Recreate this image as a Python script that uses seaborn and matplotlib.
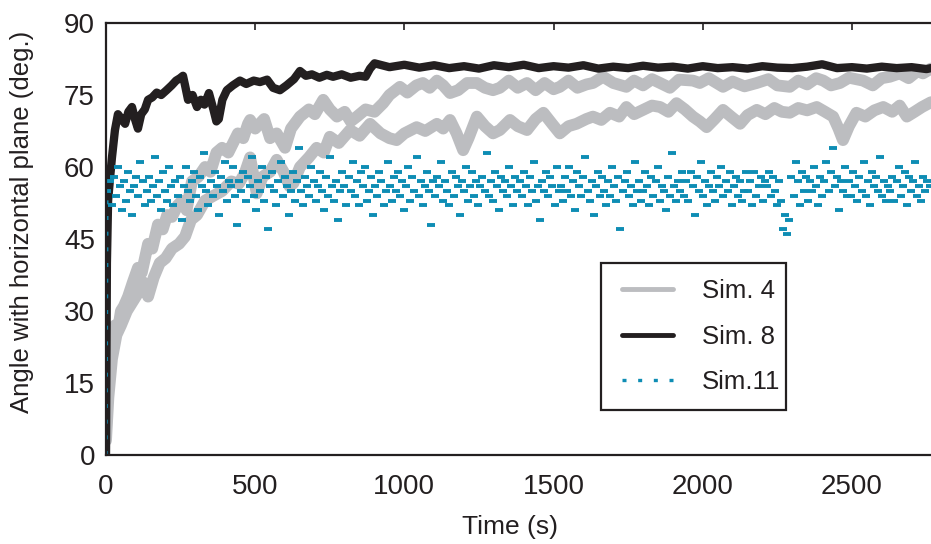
import numpy as np
import pandas as pd
import matplotlib
matplotlib.use("Agg")
import matplotlib.pyplot as plt
from matplotlib.lines import Line2D
from matplotlib.patches import Rectangle
import seaborn as sns

sns.set_theme(style="white")
plt.rcParams['font.family'] = ['Liberation Sans', 'DejaVu Sans']

# ---------------- data ----------------
series_labels = ["Sim. 4", "Sim. 8", "Sim.11"]
x_ticks = [0, 500, 1000, 1500, 2000, 2500]
y_ticks = [0, 15, 30, 45, 60, 75, 90]

sim8_t = [0, 3, 7, 14, 20, 30, 40, 52, 64, 75, 87, 97, 107, 118, 130, 141, 155, 170, 185, 203,
          220, 235, 248, 258, 265, 275, 290, 305, 318, 330, 345, 360, 370, 378, 390, 405, 425, 449, 470, 495,
          516, 540, 560, 583, 605, 630, 650, 670, 690, 715, 740, 761, 790, 820, 850, 870, 885, 900,
          950, 1000, 1050, 1100, 1150, 1200, 1250, 1300, 1350, 1400, 1450, 1500, 1550, 1600, 1650, 1700,
          1750, 1800, 1850, 1900, 1950, 2000, 2050, 2100, 2150, 2200, 2250, 2300, 2350, 2400, 2450, 2500,
          2550, 2600, 2650, 2700, 2750, 2765]
sim8_v = [0, 40, 53, 58, 62, 67.7, 71, 70, 69, 71.5, 72.5, 70, 68, 71, 72, 74, 74.5, 75.5, 75, 76,
          77, 78, 78.5, 79, 77, 74, 75, 72.5, 74, 73, 75.4, 72, 69.5, 70, 74, 76, 77, 78, 77.3, 78,
          77.7, 78.2, 76.5, 76, 77, 78.3, 80, 79, 79.3, 78.6, 79.2, 78.8, 79.3, 78.6, 79, 78.8, 80.5, 81.6,
          80.8, 81.3, 80.7, 81.2, 80.6, 81.0, 80.5, 81.2, 80.8, 81.3, 80.6, 81.0, 80.7, 81.2, 80.5, 80.9,
          80.6, 81.1, 80.7, 80.9, 80.5, 81.0, 80.6, 80.8, 80.5, 81.0, 80.7, 80.6, 80.9, 81.4, 80.6, 80.8,
          80.5, 80.9, 80.6, 80.8, 80.4, 80.6]

sim4_upper_t = [0, 5, 10, 20, 30, 40, 50, 60, 74, 90, 107, 120, 141, 155, 174, 190, 205, 221, 240, 255,
                270, 288, 310, 332, 350, 370, 389, 410, 442, 460, 476, 483, 500, 530, 550, 572, 600, 620, 650, 680,
                700, 728, 750, 774, 800, 820, 841, 870, 900, 929, 950, 985, 1010, 1040, 1062, 1085, 1109, 1130, 1153, 1180,
                1210, 1243, 1270, 1297, 1320, 1350, 1380, 1411, 1440, 1470, 1500, 1521, 1550, 1580, 1610, 1632, 1666, 1700, 1744, 1770,
                1800, 1830, 1857, 1890, 1920, 1967, 1990, 2020, 2068, 2100, 2140, 2181, 2220, 2250, 2292, 2320, 2350, 2380, 2404, 2430,
                2460, 2490, 2537, 2570, 2600, 2627, 2660, 2690, 2720, 2738, 2765]
sim4_upper_v = [5, 14, 19, 24, 27, 26, 30, 31, 33, 36, 39, 38, 44, 43, 48, 47, 50, 49.6, 52, 53,
                51, 57, 58, 60, 59, 63, 64, 63, 67, 66, 69, 69.8, 68, 70, 66, 67, 64, 68, 70.5, 72,
                71, 74, 72, 70.5, 71.5, 69.5, 70.5, 72, 71.5, 73.3, 75, 76.7, 75.5, 77, 77.5, 76.5, 78, 77, 75.4, 76,
                77.5, 77.5, 76.5, 76, 76.5, 78, 76.5, 77.5, 76, 77.5, 76.2, 76.7, 78, 76.5, 77.2, 77.5, 78.8, 77.5, 76.7, 78,
                77, 78.3, 77.5, 76.5, 78.2, 78, 77.5, 78.5, 76.7, 77.8, 76.8, 77.5, 78.3, 77, 76.7, 78, 77.2, 78.5, 78, 77,
                77.5, 78.6, 78, 77, 78.5, 78.8, 79.5, 78.5, 80, 79.5, 80.5]

sim4_lower_t = [0, 8, 20, 35, 50, 70, 90, 110, 125, 141, 160, 180, 200, 221, 245, 265, 285, 305, 332, 360,
                389, 420, 445, 465, 483, 495, 505, 525, 550, 572, 595, 615, 628, 650, 680, 706, 730, 750, 780, 818,
                850, 885, 920, 950, 974, 1000, 1041, 1070, 1109, 1130, 1153, 1175, 1197, 1215, 1243, 1270, 1297, 1320, 1354, 1380,
                1411, 1440, 1466, 1495, 1521, 1550, 1577, 1610, 1632, 1660, 1689, 1720, 1744, 1770, 1800, 1830, 1857, 1885, 1912, 1940,
                1967, 1990, 2013, 2040, 2068, 2095, 2125, 2150, 2181, 2210, 2240, 2265, 2292, 2320, 2350, 2382, 2410, 2437, 2455, 2470,
                2490, 2515, 2545, 2575, 2605, 2635, 2660, 2684, 2710, 2735, 2765]
sim4_lower_v = [3, 12, 20, 25, 27, 30, 32, 34, 36, 33, 37, 40, 41, 43, 44, 45.5, 49, 50, 53, 54,
                55, 57, 56.5, 58.7, 62, 58, 54.5, 58, 59, 61.5, 59, 56, 56.6, 60, 62, 64, 63, 66.3, 65, 67.7,
                66.5, 69, 67, 66, 65.6, 67, 68.3, 67.5, 69, 68, 69.8, 67, 63.5, 66, 70.5, 68.5, 67, 67.7, 69.8, 68.5,
                67.7, 70, 71.3, 69, 67, 68.5, 69, 70, 70.5, 69.8, 71.3, 70.5, 72.5, 71, 71.9, 72.8, 72.5, 71.5, 73.3, 72,
                70.5, 69.5, 68.3, 70, 71.9, 70.5, 69, 70.8, 71.9, 71, 72.3, 71.5, 71.3, 72.3, 71.8, 72.5, 71.5, 70.5, 68, 65.6,
                68.5, 71.3, 70.5, 71.8, 72.5, 71.5, 72.8, 70.5, 71.5, 72.5, 73.5]

sim11_start_t = [0, 3]
sim11_start_v = [0, 55]
sim11_v = [55, 57, 52, 58, 54, 60, 56, 51, 57, 53, 59, 55, 50, 56, 58, 54, 61, 57, 52, 55,
           58, 53, 56, 62, 54, 57, 51, 59, 55, 53, 60, 56, 52, 57, 54, 58, 49, 56, 60, 55,
           53, 57, 59, 54, 51, 58, 56, 63, 55, 52, 57, 54, 59, 56, 50, 58, 55, 61, 53, 57,
           56, 60, 54, 48, 57, 55, 59, 53, 58, 56, 62, 54, 51, 57, 55, 60, 53, 58, 47, 56,
           59, 55, 52, 57, 61, 54, 58, 56, 50, 55, 59, 53, 57, 64, 55, 52, 58, 56, 54, 60,
           57, 53, 56, 59, 55, 51, 58, 54, 62, 56, 53, 57, 49, 55, 59, 56, 52, 58, 55, 61,
           54, 57, 52, 59, 56, 60, 53, 55, 58, 50, 56, 54, 59, 57, 52, 55, 61, 56, 53, 58,
           55, 59, 54, 57, 51, 56, 60, 53, 58, 55, 62, 54, 57, 52, 56, 59, 55, 48, 57, 54,
           58, 56, 61, 53, 57, 55, 52, 59, 54, 58, 56, 50, 57, 55, 60, 53, 56, 59, 54, 57,
           52, 56, 58, 55, 63, 54, 57, 53, 59, 56, 51, 58, 55, 57, 54, 60, 56, 52, 58, 55,
           57, 54, 59, 56, 52, 58, 55, 61, 53, 56, 49, 57, 55, 59, 54, 58, 56, 52, 60, 55,
           56, 53, 58, 55, 60, 54, 57, 51, 59, 56, 54, 58, 62, 55, 53, 57, 50, 56, 59, 54,
           58, 55, 52, 57, 54, 60, 56, 53, 58, 47, 55, 57, 59, 54, 56, 52, 61, 55, 57, 53,
           55, 59, 56, 52, 58, 54, 57, 60, 53, 56, 55, 51, 58, 54, 63, 56, 53, 57, 55, 59,
           54, 57, 53, 59, 56, 50, 58, 55, 61, 54, 57, 52, 56, 59, 55, 53, 58, 56, 60, 54,
           57, 55, 59, 52, 56, 58, 54, 57, 53, 55, 59, 55, 57, 52, 59, 54, 56, 58, 53, 57,
           56, 59, 54, 58, 55, 52, 57, 53, 47, 50, 46, 49, 58, 54, 61, 57, 52, 59, 55, 58,
           53, 57, 55, 60, 56, 52, 58, 54, 57, 61, 55, 59, 64, 56, 58, 51, 57, 55, 60, 54,
           57, 54, 59, 56, 53, 58, 55, 61, 54, 57, 52, 59, 56, 58, 55, 62, 54, 57, 53, 56,
           55, 58, 53, 57, 60, 54, 56, 59, 52, 58, 55, 57, 61, 54, 56, 53, 58, 55, 57, 56]
sim11_t = np.linspace(5, 2760, len(sim11_v))

# ---------------- style ----------------
GRAY = "#BCBDC0"
BLACK = "#231F20"
TEAL = "#0E8DB4"

fig = plt.figure(figsize=(9.31, 5.44), dpi=100)
ax = fig.add_axes([106 / 931, 89 / 544, 825 / 931, 432 / 544])

line_kw = dict(estimator=None, sort=False, legend=False,
               solid_joinstyle="round", solid_capstyle="round")
sns.lineplot(x=sim4_upper_t, y=sim4_upper_v, ax=ax, color=GRAY, lw=8.5, **line_kw)
sns.lineplot(x=sim4_lower_t, y=sim4_lower_v, ax=ax, color=GRAY, lw=8.5, **line_kw)
sns.lineplot(x=sim8_t, y=sim8_v, ax=ax, color=BLACK, lw=6, **line_kw)
sns.lineplot(x=sim11_start_t, y=sim11_start_v, ax=ax, color=TEAL, lw=2.4,
             linestyle=(0, (1.2, 3.5)), estimator=None, sort=False, legend=False)
sns.lineplot(x=sim11_t, y=sim11_v, ax=ax, color=TEAL, linestyle="", marker="_",
             markersize=6, markeredgewidth=2.8, markeredgecolor=TEAL,
             estimator=None, sort=False, legend=False)

ax.set_xlim(0, 2765)
ax.set_ylim(0, 90)
ax.set_xticks(x_ticks)
ax.set_yticks(y_ticks)
ax.tick_params(direction="in", length=5, width=1.2, top=True, right=False,
               labelsize=20, colors=BLACK)
ax.tick_params(axis="x", pad=14)
ax.tick_params(axis="y", pad=8)
for side in ["left", "bottom", "top"]:
    ax.spines[side].set_color(BLACK)
    ax.spines[side].set_linewidth(1.6)
ax.spines["right"].set_visible(False)

ax.set_xlabel("Time (s)", fontsize=19, color=BLACK)
ax.set_ylabel("Angle with horizontal plane (deg.)", fontsize=18.5, color=BLACK)
ax.xaxis.set_label_coords(0.49, -0.14)
ax.yaxis.set_label_coords(-0.087, 0.54)

# legend frame
ax.add_patch(Rectangle((0.6, 0.104), 0.224, 0.34, transform=ax.transAxes,
                       facecolor="white", edgecolor=BLACK, lw=1.6, zorder=5))
handles = [Line2D([], [], color=GRAY, lw=3.5),
           Line2D([], [], color=BLACK, lw=3.5),
           Line2D([], [], color=TEAL, lw=2.4, linestyle=(0, (1.2, 3.5)))]
leg = ax.legend(handles, series_labels, loc="center left", bbox_to_anchor=(0.626, 0.274),
                fontsize=18.5, frameon=False, borderaxespad=0, borderpad=0,
                handlelength=1.95, handletextpad=1.15, labelspacing=0.85)
leg.set_zorder(6)
for t in leg.get_texts():
    t.set_color(BLACK)

fig.savefig("out.png", dpi=100)
